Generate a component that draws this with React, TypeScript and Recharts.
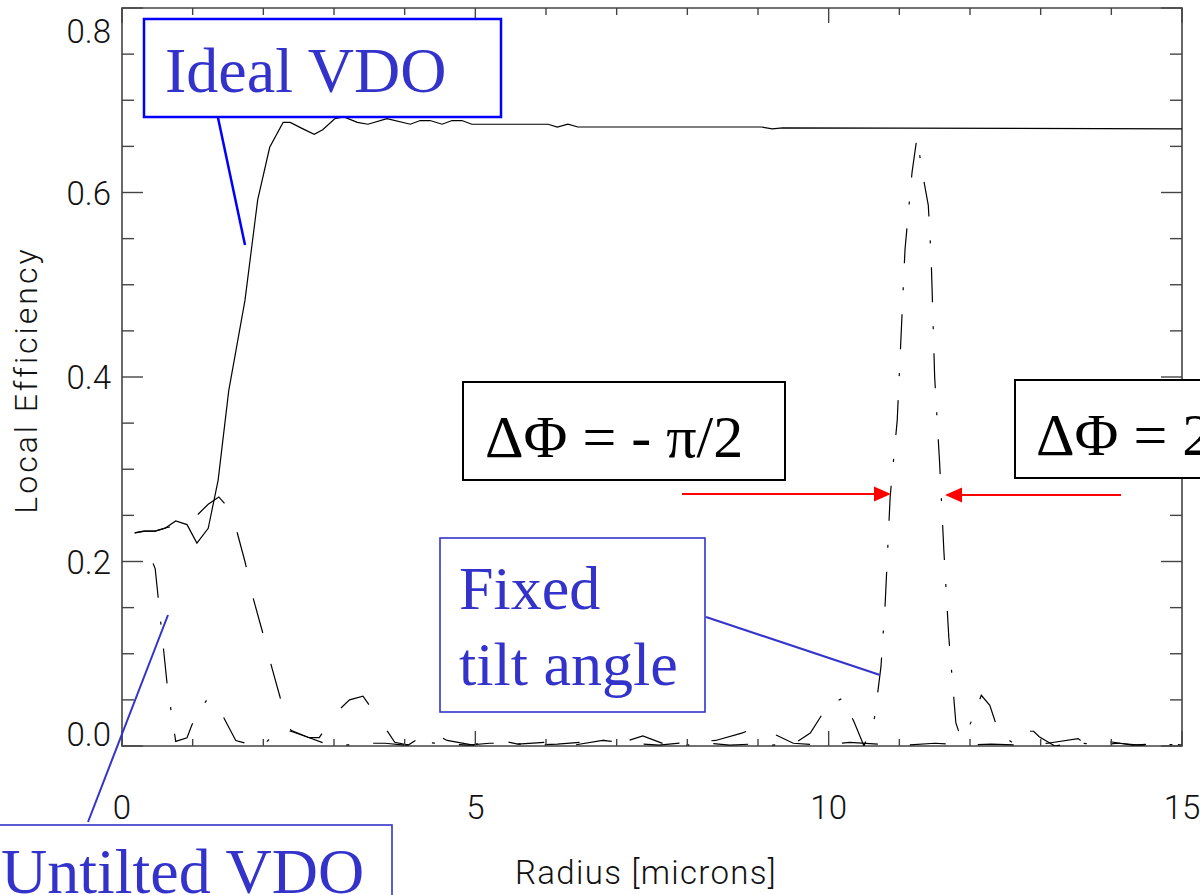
import { LineChart, Line, XAxis, YAxis, ReferenceArea } from "recharts";

// radius [microns], local efficiency
const idealVdo: [number, number][] = [
  [0.18, 0.231], [0.3, 0.233], [0.47, 0.233], [0.61, 0.236], [0.76, 0.244],
  [0.92, 0.24], [1.06, 0.22], [1.22, 0.236], [1.36, 0.288], [1.51, 0.385],
  [1.74, 0.483], [1.92, 0.592], [2.09, 0.649], [2.28, 0.676], [2.38, 0.676],
  [2.56, 0.669], [2.72, 0.663], [2.84, 0.668], [3.01, 0.68], [3.14, 0.682],
  [3.33, 0.676], [3.48, 0.674], [3.75, 0.68], [4.08, 0.674], [4.22, 0.678],
  [4.36, 0.678], [4.53, 0.674], [4.67, 0.678], [4.81, 0.678], [4.95, 0.674],
  [6.03, 0.674], [6.16, 0.671], [6.31, 0.674], [6.45, 0.671], [9.05, 0.671],
  [9.2, 0.669], [9.35, 0.67], [15, 0.669],
];

const untiltedVdo: [number, number][] = [
  [0.18, 0.231], [0.33, 0.233], [0.47, 0.233], [0.64, 0.237], [0.92, 0.24],
  [1.06, 0.25], [1.22, 0.262], [1.37, 0.27], [1.51, 0.258], [1.61, 0.237],
  [1.74, 0.2], [1.85, 0.162], [1.98, 0.126], [2.11, 0.088], [2.24, 0.052],
  [2.39, 0.017], [2.65, 0.009], [2.79, 0.009], [3.04, 0.037], [3.22, 0.05],
  [3.41, 0.054], [3.66, 0.027], [3.86, 0.004], [4.05, 0.001], [4.36, 0.016],
  [4.6, 0.006], [4.97, 0.001], [5.24, 0.008], [5.6, 0.002], [6.0, 0.004],
  [6.4, 0.001], [6.8, 0.006], [7.2, 0.003], [7.6, 0.001], [8.0, 0.004],
  [8.4, 0.006], [8.77, 0.014], [8.99, 0.02], [9.2, 0.014], [9.5, 0.003],
  [9.9, 0.001], [10.3, 0.004], [10.7, 0.002], [11.1, 0.001], [11.5, 0.003],
  [11.9, 0.001], [12.3, 0.002], [12.7, 0.001], [13.1, 0.003], [13.53, 0.008],
  [13.67, 0.0], [13.95, 0.005], [14.3, 0.001], [14.59, 0.002], [14.79, 0.003],
  [15, 0.001],
];

const fixedTilt: [number, number][] = [
  [0.44, 0.198], [0.47, 0.192], [0.64, 0.066], [0.76, 0.005],
  [0.92, 0.009], [0.99, 0.023], [1.19, 0.049], [1.39, 0.038], [1.61, 0.006],
  [1.8, 0.002], [2.0, 0.001], [2.2, 0.016], [2.39, 0.016], [2.65, 0.009],
  [2.9, 0.002], [3.27, 0.001], [3.5, 0.003], [3.72, 0.003], [4.0, 0.001],
  [4.3, 0.004], [4.6, 0.002], [4.9, 0.001], [5.2, 0.003], [5.49, 0.003],
  [5.82, 0.001], [6.16, 0.002], [6.5, 0.004], [6.76, 0.007], [7.05, 0.003],
  [7.37, 0.011], [7.68, 0.002], [8.0, 0.001], [8.3, 0.003], [8.6, 0.001],
  [8.9, 0.002], [9.2, 0.001], [9.5, 0.002], [9.74, 0.014], [9.98, 0.043],
  [10.2, 0.052], [10.36, 0.026], [10.5, 0.0], [10.65, 0.031], [10.74, 0.086],
  [10.8, 0.155], [10.87, 0.27], [10.97, 0.353], [11.08, 0.538], [11.18, 0.622],
  [11.25, 0.66], [11.32, 0.624], [11.41, 0.586], [11.45, 0.53], [11.5, 0.4],
  [11.57, 0.307], [11.63, 0.212], [11.7, 0.118], [11.8, 0.025], [11.87, 0.009],
  [11.93, 0.011], [12.06, 0.034], [12.16, 0.055], [12.28, 0.044], [12.38, 0.021],
  [12.45, 0.012], [12.61, 0.003], [12.75, 0.016], [12.9, 0.016], [12.98, 0.01],
  [13.2, 0.0], [13.5, 0.004], [13.8, 0.001], [14.1, 0.003], [14.4, 0.001],
  [14.7, 0.002], [15, 0.001],
];

const xTicks = [0, 1, 2, 3, 4, 5, 6, 7, 8, 9, 10, 11, 12, 13, 14, 15];
const xLabels = [0, 5, 10, 15];
const yTicks = [
  0, 0.05, 0.1, 0.15, 0.2, 0.25, 0.3, 0.35, 0.4, 0.45, 0.5, 0.55, 0.6, 0.65,
  0.7, 0.75, 0.8,
];
const yLabels = ["0.0", "0.2", "0.4", "0.6", "0.8"];

const toRows = (pts: [number, number][]) => pts.map(([r, eff]) => ({ r, eff }));

const TOP = 8;
const BOTTOM = 746;
const LEFT = 122;
const RIGHT = 1182;
const AXIS = "#444";
const thinFont = "Roboto, 'DejaVu Sans', sans-serif";

function XTick(props: any) {
  const { x, payload } = props;
  const v = payload.value;
  const major = xLabels.includes(v);
  const len = major ? 15 : 7;
  return (
    <g>
      <line x1={x} x2={x} y1={BOTTOM} y2={BOTTOM - len} stroke={AXIS} strokeWidth={1.4} />
      <line x1={x} x2={x} y1={TOP} y2={TOP + len} stroke={AXIS} strokeWidth={1.4} />
      {major && (
        <text x={x} y={819} textAnchor="middle" fontFamily={thinFont} fontWeight={300} fontSize={33} fill="#111">
          {v}
        </text>
      )}
    </g>
  );
}

function YTick(props: any) {
  const { y, payload } = props;
  const v = payload.value;
  const idx = Math.round(v * 100);
  const major = idx % 20 === 0;
  const len = major ? 21 : 12;
  let base = y + 12;
  if (idx === 80) base = 43;
  if (idx === 0) base = 746;
  return (
    <g>
      <line x1={LEFT} x2={LEFT + len} y1={y} y2={y} stroke={AXIS} strokeWidth={1.4} />
      <line x1={RIGHT} x2={RIGHT - len} y1={y} y2={y} stroke={AXIS} strokeWidth={1.4} />
      {major && (
        <text x={111} y={base} textAnchor="end" fontFamily={thinFont} fontWeight={300} fontSize={33} fill="#111">
          {yLabels[idx / 20]}
        </text>
      )}
    </g>
  );
}

const serif = "'Liberation Serif', 'Times New Roman', serif";
const blue = "#3333cc";

function Notes() {
  return (
    <svg width={1200} height={895} style={{ position: "absolute", left: 0, top: 0, pointerEvents: "none" }}>
      {/* axis titles */}
      <text
        transform="translate(37 380) rotate(-90)"
        textAnchor="middle"
        fontFamily={thinFont}
        fontWeight={300}
        fontSize={32}
        letterSpacing={3}
        fill="#111"
      >
        Local Efficiency
      </text>
      <text x={646} y={884} textAnchor="middle" fontFamily={thinFont} fontWeight={300} fontSize={33} letterSpacing={1.3} fill="#111">
        Radius [microns]
      </text>

      {/* Ideal VDO */}
      <line x1={217} y1={113} x2={245} y2={245} stroke="#0000ff" strokeWidth={2.5} />
      <rect x={144} y={19} width={357} height={98} fill="#fff" stroke="#0000ff" strokeWidth={2.5} />
      <text x={165} y={92} fontFamily={serif} fontSize={64} fill={blue}>Ideal VDO</text>

      {/* Fixed tilt angle */}
      <line x1={706} y1={617} x2={880} y2={675} stroke={blue} strokeWidth={2} />
      <rect x={440} y={538} width={265} height={174} fill="#fff" stroke={blue} strokeWidth={1.6} />
      <text x={459} y={609} fontFamily={serif} fontSize={62} fill={blue}>Fixed</text>
      <text x={459} y={685} fontFamily={serif} fontSize={62} fill={blue}>tilt angle</text>

      {/* Untilted VDO */}
      <line x1={88} y1={822} x2={168} y2={615} stroke={blue} strokeWidth={2} />
      <rect x={-2} y={825} width={394} height={90} fill="#fff" stroke={blue} strokeWidth={1.6} />
      <text x={1} y={893} fontFamily={serif} fontSize={64} fill={blue}>Untilted VDO</text>

      {/* phase boxes */}
      <rect x={463} y={382} width={322} height={98} fill="#fff" stroke="#000" strokeWidth={2} />
      <text x={485} y={457} fontFamily={serif} fontSize={60} fill="#000">ΔΦ = - π/2</text>
      <rect x={1015} y={380} width={220} height={98} fill="#fff" stroke="#000" strokeWidth={2} />
      <text x={1036} y={455} fontFamily={serif} fontSize={60} fill="#000">ΔΦ = 2π</text>

      {/* arrows */}
      <line x1={682} y1={494} x2={876} y2={494} stroke="#ff0000" strokeWidth={2.2} />
      <polygon points="891,494 874,486.5 874,501.5" fill="#ff0000" />
      <line x1={1121} y1={495} x2={960} y2={495} stroke="#ff0000" strokeWidth={2.2} />
      <polygon points="945,495 962,487.5 962,502.5" fill="#ff0000" />
    </svg>
  );
}

export default function App() {
  return (
    <div style={{ position: "absolute", left: 0, top: 0, width: 1200, height: 895, background: "#fff" }}>
      <LineChart
        width={1200}
        height={895}
        margin={{ top: TOP, right: 1200 - RIGHT, bottom: 895 - BOTTOM - 40, left: LEFT - 60 }}
      >
        <XAxis
          type="number"
          dataKey="r"
          domain={[0, 15]}
          ticks={xTicks}
          interval={0}
          height={40}
          axisLine={false}
          tickLine={false}
          tick={(p: any) => <XTick {...p} />}
          allowDataOverflow
        />
        <YAxis
          type="number"
          domain={[0, 0.8]}
          ticks={yTicks}
          interval={0}
          width={60}
          axisLine={false}
          tickLine={false}
          tick={(p: any) => <YTick {...p} />}
          allowDataOverflow
        />
        <ReferenceArea x1={0} x2={15} y1={0} y2={0.8} fill="none" stroke={AXIS} strokeWidth={1.6} fillOpacity={0} />
        <Line
          data={toRows(idealVdo)}
          dataKey="eff"
          type="linear"
          stroke="#000"
          strokeWidth={1.2}
          dot={false}
          isAnimationActive={false}
        />
        <Line
          data={toRows(untiltedVdo)}
          dataKey="eff"
          type="linear"
          stroke="#000"
          strokeWidth={1.2}
          strokeDasharray="36 32"
          dot={false}
          isAnimationActive={false}
        />
        <Line
          data={toRows(fixedTilt)}
          dataKey="eff"
          type="linear"
          stroke="#000"
          strokeWidth={1.2}
          strokeDasharray="35 24 3 24"
          dot={false}
          isAnimationActive={false}
        />
      </LineChart>
      <Notes />
    </div>
  );
}
